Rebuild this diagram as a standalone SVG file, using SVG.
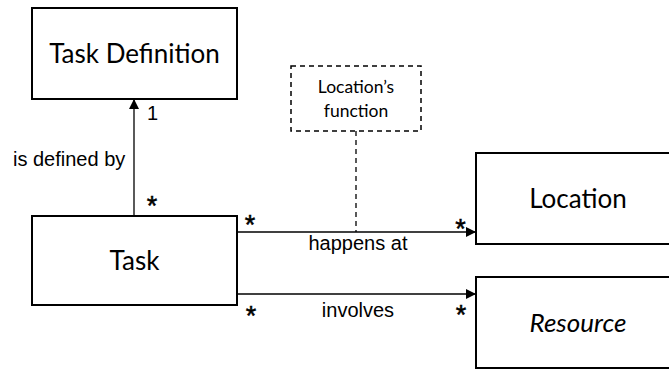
<svg xmlns="http://www.w3.org/2000/svg" width="669" height="370" viewBox="0 0 669 370">
<defs>
<style>
.box{fill:#fff;stroke:#000;stroke-width:2}
.dash{fill:#fff;stroke:#000;stroke-width:1.5;stroke-dasharray:5,4}
.ln{stroke:#000;stroke-width:1.3;fill:none}
.big{font-family:Lato,"Open Sans",sans-serif;font-size:26px;fill:#000;text-anchor:middle}
.small{font-family:Lato,"Open Sans",sans-serif;font-size:17.5px;fill:#000;text-anchor:middle}
.lab{font-family:"Liberation Sans",Arial,sans-serif;font-size:20px;fill:#000}
.st{font-family:"Liberation Sans",Arial,sans-serif;font-size:27px;fill:#000;stroke:#000;stroke-width:0.5;text-anchor:middle}
.mid{text-anchor:middle}
</style>
<marker id="arr" viewBox="0 0 10 10" refX="10" refY="5" markerWidth="10" markerHeight="10" markerUnits="userSpaceOnUse" orient="auto">
<path d="M0,0 L10,5 L0,10 z" fill="#000"/>
</marker>
</defs>
<g id="connectors">
<line class="ln" x1="134" y1="216" x2="134" y2="99" marker-end="url(#arr)"/>
<line class="ln" x1="237" y1="232" x2="476" y2="232" marker-end="url(#arr)"/>
<line class="ln" x1="237" y1="294" x2="476" y2="294" marker-end="url(#arr)"/>
<line class="ln" x1="356" y1="131" x2="356" y2="232" stroke-dasharray="5,4"/>
<text class="lab" x="13" y="166">is defined by</text>
<text class="lab" x="147" y="120">1</text>
<text class="st" x="152" y="214.5">*</text>
<text class="st" x="250" y="234">*</text>
<text class="st" x="460.5" y="237.5">*</text>
<text class="lab mid" x="358" y="250">happens at</text>
<text class="st" x="251" y="324.5">*</text>
<text class="st" x="461" y="324">*</text>
<text class="lab mid" x="358" y="317">involves</text>
</g>
<g id="task-definition">
<rect class="box" x="32" y="8" width="205" height="91"/>
<text class="big" x="134.5" y="63">Task Definition</text>
</g>
<g id="task">
<rect class="box" x="32" y="216" width="205" height="89"/>
<text class="big" x="134.5" y="270">Task</text>
</g>
<g id="location">
<rect class="box" x="476" y="153" width="200" height="91"/>
<text class="big" x="578" y="208">Location</text>
</g>
<g id="resource">
<rect class="box" x="476" y="277" width="200" height="91"/>
<text class="big" x="578" y="332" font-style="italic">Resource</text>
</g>
<g id="location-function">
<rect class="dash" x="291" y="66" width="130" height="65"/>
<text class="small" x="356" y="93">Location’s</text>
<text class="small" x="356" y="117">function</text>
</g>
</svg>
